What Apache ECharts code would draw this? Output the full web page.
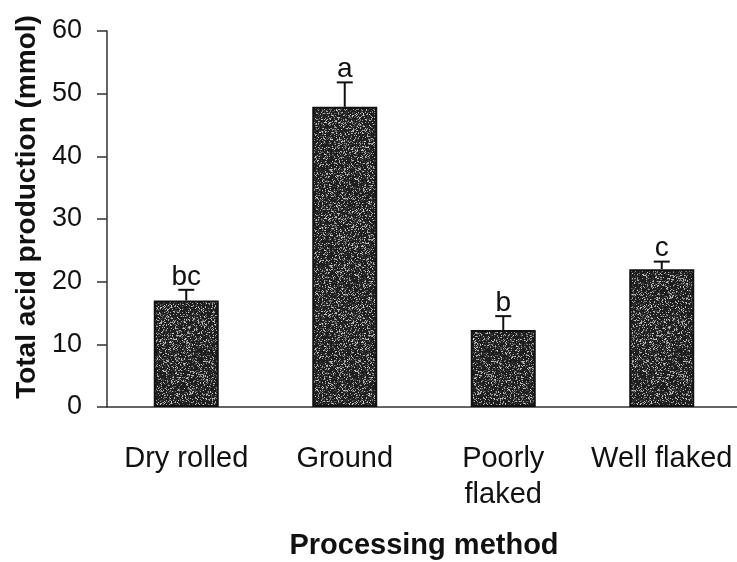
<!DOCTYPE html>
<html>
<head>
<meta charset="utf-8">
<script src="https://cdn.jsdelivr.net/npm/echarts@6/dist/echarts.min.js"></script>
<style>
  html, body { margin: 0; padding: 0; background: #fff; }
  #chart { width: 737px; height: 562px; }
</style>
</head>
<body>
<div id="chart"></div>
<script>
// Total acid production by grain processing method
const categories = ['Dry rolled', 'Ground', 'Poorly\nflaked', 'Well flaked'];
const means = [17.0, 47.9, 12.3, 22.0];
const upperErrors = [18.7, 51.8, 14.5, 23.2];
const letters = ['bc', 'a', 'b', 'c'];
const yTicks = [0, 10, 20, 30, 40, 50, 60];

// Speckled dark fill for the bars (deterministic grain)
function makeGrain() {
  const size = 96;
  const c = document.createElement('canvas');
  c.width = size; c.height = size;
  const ctx = c.getContext('2d');
  ctx.fillStyle = '#1e1e1e';
  ctx.fillRect(0, 0, size, size);
  let s = 12345;
  const next = () => { s = (s * 1103515245 + 12345) & 0x7fffffff; return s / 0x7fffffff; };
  for (let y = 0; y < size; y++) {
    for (let x = 0; x < size; x++) {
      const r = next();
      if (r < 0.2) {
        const g = Math.round(110 + next() * 100);
        ctx.fillStyle = 'rgb(' + g + ',' + g + ',' + g + ')';
        ctx.fillRect(x, y, 1, 1);
      } else if (r < 0.32) {
        ctx.fillStyle = '#474747';
        ctx.fillRect(x, y, 1, 1);
      }
    }
  }
  return c;
}

const FONT = '"Liberation Sans", Arial, sans-serif';
const chart = echarts.init(document.getElementById('chart'), null, { renderer: 'canvas' });

const errData = categories.map((c, i) => [i, means[i], upperErrors[i], letters[i]]);

chart.setOption({
  animation: false,
  backgroundColor: '#ffffff',
  grid: { left: 107, right: -4, top: 31, bottom: 155, containLabel: false, outerBoundsMode: 'none' },
  xAxis: {
    type: 'category',
    data: categories,
    boundaryGap: true,
    axisLine: { lineStyle: { color: '#333', width: 1.5 } },
    axisTick: { show: false },
    axisLabel: {
      color: '#111', fontFamily: FONT, fontSize: 29, margin: 34,
      lineHeight: 36, interval: 0
    },
    name: 'Processing method',
    nameLocation: 'middle',
    nameGap: 124,
    nameTextStyle: { color: '#111', fontFamily: FONT, fontSize: 29, fontWeight: 'bold' }
  },
  yAxis: {
    type: 'value',
    min: 0, max: 60, interval: 10,
    axisLine: { show: true, lineStyle: { color: '#333', width: 1.5 } },
    axisTick: { show: true, inside: false, length: 10, lineStyle: { color: '#333', width: 1.5 } },
    splitLine: { show: false },
    axisLabel: {
      color: '#111', fontFamily: FONT, fontSize: 27, margin: 25,
      formatter: v => (yTicks.indexOf(v) >= 0 ? String(v) : '')
    },
    name: 'Total acid production (mmol)',
    nameLocation: 'middle',
    nameGap: 62,
    nameTextStyle: { color: '#111', fontFamily: FONT, fontSize: 28, fontWeight: 'bold', padding: [0, 0, 0, 24] }
  },
  series: [
    {
      type: 'bar',
      data: means,
      barWidth: 65,
      itemStyle: {
        color: { image: makeGrain(), repeat: 'repeat' },
        borderColor: '#111',
        borderWidth: 2
      },
      z: 2
    },
    {
      type: 'custom',
      data: errData,
      z: 3,
      renderItem: (params, api) => {
        const i = api.value(0);
        const base = api.coord([i, api.value(1)]);
        const top = api.coord([i, api.value(2)]);
        const half = 8;
        return {
          type: 'group',
          children: [
            { type: 'line', shape: { x1: base[0], y1: base[1], x2: top[0], y2: top[1] },
              style: { stroke: '#111', lineWidth: 2 } },
            { type: 'line', shape: { x1: top[0] - half, y1: top[1], x2: top[0] + half, y2: top[1] },
              style: { stroke: '#111', lineWidth: 2 } },
            { type: 'text', x: top[0], y: top[1] + 1,
              style: { text: letters[i], fill: '#111', font: '28px ' + FONT,
                       align: 'center', verticalAlign: 'bottom' } }
          ]
        };
      }
    }
  ]
});
</script>
</body>
</html>
